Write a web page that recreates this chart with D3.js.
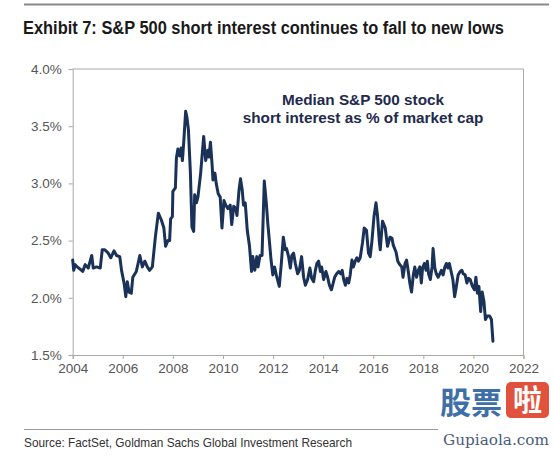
<!DOCTYPE html>
<html>
<head>
<meta charset="utf-8">
<script src="https://cdn.jsdelivr.net/npm/d3@7"></script>
<style>
  html, body { margin: 0; padding: 0; background: #ffffff; }
  svg { display: block; }
</style>
</head>
<body>
<script>
// ---- data ----
const title = "Exhibit 7: S&P 500 short interest continues to fall to new lows";
const sourceNote = "Source: FactSet, Goldman Sachs Global Investment Research";
const annotationLines = ["Median S&P 500 stock", "short interest as % of market cap"];
const yTickValues = [1.5, 2.0, 2.5, 3.0, 3.5, 4.0];
const xTickValues = [2004, 2006, 2008, 2010, 2012, 2014, 2016, 2018, 2020, 2022];
const dates = [
  2004.00,2004.04,2004.10,2004.18,2004.30,2004.40,2004.50,2004.62,2004.76,2004.82,2004.95,
  2005.10,2005.18,2005.28,2005.42,2005.52,2005.65,2005.75,2005.88,2005.95,
  2006.05,2006.12,2006.18,2006.25,2006.34,2006.40,2006.54,2006.68,2006.78,2006.88,2006.98,
  2007.07,2007.18,2007.30,2007.42,2007.54,2007.64,2007.71,2007.80,2007.87,2007.91,2007.98,
  2008.00,2008.10,2008.14,2008.20,2008.27,2008.33,2008.38,2008.44,2008.51,2008.56,2008.62,2008.70,2008.76,2008.83,2008.87,2008.94,
  2009.00,2009.11,2009.23,2009.31,2009.40,2009.44,2009.50,2009.57,2009.60,2009.68,2009.73,2009.81,2009.89,2009.96,
  2010.04,2010.11,2010.20,2010.29,2010.35,2010.43,2010.51,2010.56,2010.64,2010.70,2010.77,2010.82,2010.89,2010.97,
  2011.06,2011.14,2011.19,2011.27,2011.35,2011.40,2011.48,2011.56,2011.65,2011.73,2011.79,2011.86,2011.92,2011.99,
  2012.06,2012.15,2012.25,2012.33,2012.41,2012.49,2012.54,2012.62,2012.69,2012.75,2012.82,2012.89,2012.98,
  2013.05,2013.14,2013.22,2013.29,2013.38,2013.47,2013.54,2013.62,2013.69,2013.75,2013.82,2013.89,2013.94,
  2014.02,2014.11,2014.18,2014.25,2014.33,2014.38,2014.46,2014.54,2014.62,2014.70,2014.76,2014.82,2014.89,2014.95,
  2015.02,2015.08,2015.15,2015.21,2015.28,2015.35,2015.41,2015.48,2015.57,2015.64,2015.73,2015.81,2015.88,2015.95,
  2016.03,2016.11,2016.17,2016.24,2016.28,2016.37,2016.48,2016.57,2016.67,2016.75,2016.80,2016.91,2016.98,
  2017.06,2017.14,2017.19,2017.27,2017.33,2017.40,2017.46,2017.53,2017.60,2017.66,2017.73,2017.80,2017.86,2017.92,2017.97,
  2018.04,2018.11,2018.16,2018.21,2018.28,2018.35,2018.39,2018.46,2018.52,2018.59,2018.66,2018.72,2018.79,2018.86,2018.92,2018.98,
  2019.04,2019.11,2019.18,2019.25,2019.32,2019.39,2019.47,2019.54,2019.59,2019.67,2019.74,2019.80,2019.87,2019.96,
  2020.04,2020.10,2020.16,2020.22,2020.29,2020.35,2020.42,2020.48,2020.55,2020.65,2020.72,2020.78
];
const shortInterest = [
  2.33,2.24,2.29,2.27,2.25,2.23,2.29,2.26,2.37,2.26,2.27,
  2.26,2.42,2.42,2.39,2.35,2.41,2.37,2.36,2.24,
  2.13,2.01,2.14,2.05,2.04,2.18,2.23,2.37,2.27,2.32,2.27,
  2.24,2.27,2.53,2.74,2.68,2.61,2.45,2.50,2.50,2.69,2.71,
  2.93,2.96,3.22,3.30,3.24,3.31,3.20,3.38,3.63,3.58,3.47,3.09,2.62,2.58,2.90,2.83,
  2.88,3.09,3.41,3.20,3.29,3.23,3.36,3.15,3.03,3.09,3.00,2.91,2.88,2.61,
  2.85,2.81,2.78,2.81,2.64,2.80,2.78,2.72,2.94,3.04,2.94,2.81,2.83,2.59,
  2.45,2.23,2.36,2.24,2.36,2.27,2.37,2.37,3.02,2.83,2.65,2.48,2.33,2.20,
  2.27,2.18,2.10,2.30,2.53,2.42,2.43,2.36,2.26,2.37,2.39,2.30,2.21,
  2.24,2.36,2.18,2.11,2.16,2.26,2.17,2.14,2.24,2.30,2.32,2.23,2.27,
  2.16,2.23,2.18,2.11,2.07,2.11,2.18,2.21,2.23,2.21,2.24,2.16,2.11,2.17,
  2.13,2.20,2.33,2.27,2.32,2.35,2.32,2.35,2.48,2.61,2.59,2.39,2.36,2.50,
  2.71,2.83,2.72,2.50,2.42,2.67,2.61,2.45,2.53,2.52,2.46,2.40,2.32,
  2.29,2.27,2.18,2.30,2.33,2.23,2.13,2.05,2.20,2.27,2.18,2.24,2.27,2.13,2.26,
  2.30,2.24,2.32,2.21,2.16,2.27,2.43,2.26,2.21,2.18,2.21,2.24,2.20,2.27,2.30,2.26,
  2.30,2.23,2.16,2.01,2.10,2.20,2.23,2.24,2.21,2.20,2.13,2.17,2.16,2.10,
  2.07,2.18,2.04,2.10,1.88,2.05,1.97,1.81,1.84,1.84,1.81,1.62
];

// ---- layout ----
const W = 554, H = 458;
const plot = { left: 72.7, right: 523.5, top: 69, bottom: 355 };
const axisColor = "#a8a8a8";
const labelColor = "#555555";
const lineColor = "#1a3158";

const svg = d3.select("body").append("svg")
  .attr("width", W).attr("height", H)
  .style("font-family", "'Liberation Sans', Arial, sans-serif");

const x = d3.scaleLinear().domain([2004, 2022]).range([plot.left, plot.right]);
const y = d3.scaleLinear().domain([1.5, 4.0]).range([plot.bottom, plot.top]);

// header rule
svg.append("line").attr("x1", 24).attr("x2", 549).attr("y1", 4.5).attr("y2", 4.5)
  .attr("stroke", "#8a8a8a").attr("stroke-width", 2);

// title
svg.append("text").attr("x", 23).attr("y", 34)
  .attr("textLength", 481).attr("lengthAdjust", "spacingAndGlyphs")
  .style("font-family", "'Liberation Sans Narrow', 'Arial Narrow', 'Liberation Sans', Arial, sans-serif")
  .style("font-weight", "bold").style("font-size", "17.5px").attr("fill", "#1a1a1a")
  .text(title);

// frame (top and right)
svg.append("line").attr("x1", plot.left).attr("x2", plot.right).attr("y1", plot.top).attr("y2", plot.top)
  .attr("stroke", axisColor).attr("stroke-width", 1);
svg.append("line").attr("x1", plot.right).attr("x2", plot.right).attr("y1", plot.top).attr("y2", plot.bottom)
  .attr("stroke", axisColor).attr("stroke-width", 1);

// y axis
const yAxis = svg.append("g").attr("transform", `translate(${plot.left},0)`)
  .call(d3.axisLeft(y).tickValues(yTickValues).tickSize(4).tickPadding(7)
    .tickFormat(d => d3.format(".1f")(d) + "%"));
// x axis
const xAxis = svg.append("g").attr("transform", `translate(0,${plot.bottom})`)
  .call(d3.axisBottom(x).tickValues(xTickValues).tickSize(4).tickPadding(4)
    .tickFormat(d3.format("d")));
[yAxis, xAxis].forEach(g => {
  g.selectAll("path.domain").attr("stroke", axisColor);
  g.selectAll(".tick line").attr("stroke", axisColor);
  g.selectAll(".tick text").attr("fill", labelColor)
    .style("font-size", "13.5px").style("font-family", "'Liberation Sans', Arial, sans-serif");
});

// series line
const series = dates.map((d, i) => ({ t: d, v: shortInterest[i] }));
svg.append("path").datum(series)
  .attr("fill", "none").attr("stroke", lineColor).attr("stroke-width", 3)
  .attr("stroke-linejoin", "round").attr("stroke-linecap", "round")
  .attr("d", d3.line().x(d => x(d.t)).y(d => y(d.v)));

// annotation
const ann = svg.append("text").attr("text-anchor", "middle")
  .style("font-weight", "bold").style("font-size", "15.3px").attr("fill", "#1f2a4c");
annotationLines.forEach((s, i) => {
  ann.append("tspan").attr("x", 363).attr("y", 104.5 + i * 18.5).text(s);
});

// footer rule and source
svg.append("line").attr("x1", 24).attr("x2", 438).attr("y1", 429.5).attr("y2", 429.5)
  .attr("stroke", "#9a9a9a").attr("stroke-width", 1);
svg.append("text").attr("x", 24).attr("y", 447)
  .attr("textLength", 328).attr("lengthAdjust", "spacingAndGlyphs")
  .style("font-family", "'Liberation Sans Narrow', 'Arial Narrow', 'Liberation Sans', Arial, sans-serif")
  .style("font-size", "13px").attr("fill", "#333333")
  .text(sourceNote);

// watermark
const wm = svg.append("g");
wm.append("text").attr("x", 440).attr("y", 414)
  .style("font-family", "'Noto Sans CJK SC', sans-serif").style("font-weight", "bold")
  .style("font-size", "31px").attr("fill", "#3f6fa8").attr("textLength", 62)
  .text("股票");
wm.append("rect").attr("x", 506).attr("y", 382).attr("width", 43).attr("height", 36).attr("rx", 5)
  .attr("fill", "#e0523e");
wm.append("text").attr("x", 527.5).attr("y", 411).attr("text-anchor", "middle")
  .style("font-family", "'Noto Sans CJK SC', sans-serif").style("font-weight", "bold")
  .style("font-size", "29px").attr("fill", "#ffffff")
  .text("啦");
wm.append("text").attr("x", 443).attr("y", 445)
  .style("font-family", "'DejaVu Serif', 'Liberation Serif', serif")
  .style("font-size", "14px").attr("fill", "#4a5d7a").attr("textLength", 106)
  .attr("lengthAdjust", "spacingAndGlyphs")
  .text("Gupiaola.com");
</script>
</body>
</html>
